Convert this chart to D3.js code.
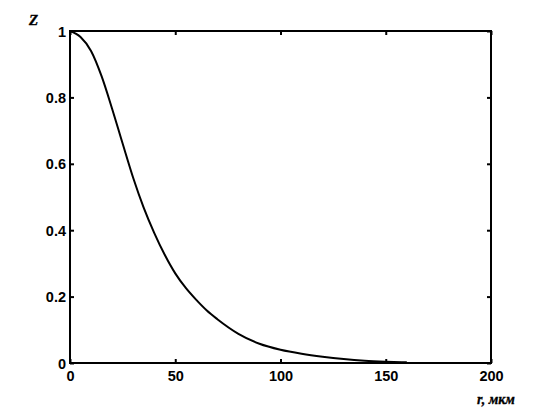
<!DOCTYPE html>
<html>
<head>
<meta charset="utf-8">
<script src="https://cdn.jsdelivr.net/npm/d3@7"></script>
<style>
  body { margin: 0; background: #fff; }
</style>
</head>
<body>
<div id="chart"></div>
<script>
// r (мкм) and z
var rVals = [0, 5, 10, 15, 20, 25, 30, 35, 40, 45, 50, 55, 60, 65, 70, 80, 90, 100, 110, 120, 130, 140, 150, 160];
var zVals = [1.0, 0.982, 0.94, 0.864, 0.766, 0.661, 0.558, 0.468, 0.392, 0.326, 0.27, 0.226, 0.19, 0.158, 0.132, 0.088, 0.058, 0.04, 0.028, 0.019, 0.012, 0.007, 0.004, 0.002];
var xTicks = [0, 50, 100, 150, 200];
var yTicks = [0, 0.2, 0.4, 0.6, 0.8, 1];

(function(){
  var width = 552, height = 417;
  var left = 70, right = 491, top = 31, bottom = 363;

  var svg = d3.select("#chart").append("svg")
    .attr("width", width)
    .attr("height", height);

  var x = d3.scaleLinear().domain([0, 200]).range([left, right]);
  var y = d3.scaleLinear().domain([0, 1]).range([bottom, top]);

  var fmt = function(d){ return d3.format("")(+d.toFixed(1)); };

  // bottom axis with inward ticks
  var gx = svg.append("g")
    .attr("transform", "translate(0," + bottom + ")")
    .call(d3.axisBottom(x).tickValues(xTicks).tickSizeInner(-4).tickSizeOuter(0).tickFormat(fmt));
  gx.selectAll("text").attr("dy", "0.71em").attr("y", 8);

  var gy = svg.append("g")
    .attr("transform", "translate(" + left + ",0)")
    .call(d3.axisLeft(y).tickValues(yTicks).tickSizeInner(-4).tickSizeOuter(0).tickFormat(fmt));
  gy.selectAll("text").attr("x", -4).attr("dy", "0.35em");

  svg.append("g")
    .attr("transform", "translate(0," + top + ")")
    .call(d3.axisTop(x).tickValues(xTicks).tickSizeInner(-4).tickSizeOuter(0).tickFormat(""));
  svg.append("g")
    .attr("transform", "translate(" + right + ",0)")
    .call(d3.axisRight(y).tickValues(yTicks).tickSizeInner(-4).tickSizeOuter(0).tickFormat(""));

  svg.selectAll(".domain").remove();
  svg.selectAll(".tick line").attr("stroke", "#000").attr("stroke-width", 2);
  svg.selectAll(".tick text")
    .attr("fill", "#000")
    .style("font-family", "'Liberation Sans', Arial, sans-serif")
    .style("font-weight", "bold")
    .style("font-size", "14.5px");

  svg.append("rect")
    .attr("x", left).attr("y", top)
    .attr("width", right - left).attr("height", bottom - top)
    .attr("fill", "none")
    .attr("stroke", "#000")
    .attr("stroke-width", 2);

  var pts = rVals.map(function(r, i){ return [r, zVals[i]]; });
  var line = d3.line()
    .x(function(d){ return x(d[0]); })
    .y(function(d){ return y(d[1]); })
    .curve(d3.curveMonotoneX);

  svg.append("path")
    .datum(pts)
    .attr("d", line)
    .attr("fill", "none")
    .attr("stroke", "#000")
    .attr("stroke-width", 2);

  svg.append("text")
    .attr("x", 29).attr("y", 25)
    .style("font-family", "'Liberation Serif', 'Times New Roman', serif")
    .style("font-weight", "bold")
    .style("font-style", "italic")
    .style("font-size", "15px")
    .style("stroke", "#000")
    .style("stroke-width", 0.4)
    .text("Z");

  svg.append("text")
    .attr("x", 477).attr("y", 404)
    .style("font-family", "'Liberation Serif', 'Times New Roman', serif")
    .style("font-weight", "bold")
    .style("font-style", "italic")
    .style("font-size", "14px")
    .style("stroke", "#000")
    .style("stroke-width", 0.3)
    .text("r, мкм");
})();
</script>
</body>
</html>
